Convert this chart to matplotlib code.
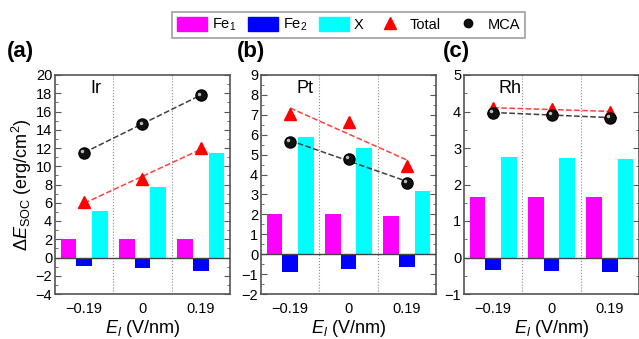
import matplotlib
matplotlib.use("Agg")
import matplotlib.pyplot as plt
import numpy as np
from matplotlib.patches import Patch
from matplotlib.lines import Line2D
from matplotlib.ticker import MultipleLocator

plt.rcParams['font.family'] = ['Liberation Sans', 'DejaVu Sans']
plt.rcParams['mathtext.fontset'] = 'custom'
plt.rcParams['mathtext.rm'] = 'Liberation Sans'
plt.rcParams['mathtext.it'] = 'Liberation Sans:italic'
plt.rcParams['axes.unicode_minus'] = True

field_labels = ['\u22120.19', '0', '0.19']
metals = ['Ir', 'Pt', 'Rh']

# per metal: Fe1, Fe2, X, Total, MCA  (erg/cm^2)
fe1 = {'Ir': [2.05, 2.05, 2.05], 'Pt': [2.0, 2.0, 1.9], 'Rh': [1.67, 1.67, 1.67]}
fe2 = {'Ir': [-0.9, -1.15, -1.45], 'Pt': [-0.9, -0.74, -0.65], 'Rh': [-0.35, -0.37, -0.41]}
xel = {'Ir': [5.1, 7.7, 11.4], 'Pt': [5.87, 5.32, 3.16], 'Rh': [2.75, 2.72, 2.70]}
total = {'Ir': [6.1, 8.6, 12.0], 'Pt': [7.04, 6.64, 4.43], 'Rh': [4.1, 4.06, 4.0]}
mca = {'Ir': [11.5, 14.65, 17.8], 'Pt': [5.65, 4.8, 3.6], 'Rh': [3.97, 3.91, 3.83]}

ylims = {'Ir': (-4, 20), 'Pt': (-2, 9), 'Rh': (-1, 5)}
ymajor = {'Ir': 2, 'Pt': 1, 'Rh': 1}

c_fe1 = '#ff00ff'
c_fe2 = '#0000ff'
c_x = '#00ffff'
spine_c = '#555555'

fig = plt.figure(figsize=(6.39, 3.39), dpi=100)
lefts = [55, 261, 464]
w = 175
bot = 294
top = 75
axes = []
for l in lefts:
    axes.append(fig.add_axes([l / 639, 1 - bot / 339, w / 639, (bot - top) / 339]))

x = np.arange(3)
bw = 0.27
for ax, m in zip(axes, metals):
    ax.bar(x - bw, fe1[m], bw, color=c_fe1, zorder=2)
    ax.bar(x, fe2[m], bw, color=c_fe2, zorder=2)
    ax.bar(x + bw, xel[m], bw, color=c_x, zorder=2)
    ax.axhline(0, color='#444444', lw=1.0, zorder=3)
    for sep in [0.5, 1.5]:
        ax.axvline(sep, color='#888888', lw=0.8, ls=':', zorder=1)
    # linear trend lines
    pt = np.polyfit(x, total[m], 1)
    pm = np.polyfit(x, mca[m], 1)
    ax.plot(x, np.polyval(pt, x), ls='--', color='#ff4040', lw=1.1, zorder=4)
    ax.plot(x, np.polyval(pm, x), ls='--', color='#404040', lw=1.1, zorder=4)
    ax.plot(x, total[m], ls='none', marker='^', ms=9, color='#ff0000', zorder=5)
    ax.plot(x, mca[m], ls='none', marker='o', ms=8, mfc='#111111', mec='#000000', zorder=5)
    ax.plot(x - 0.03, np.array(mca[m]) + (ylims[m][1] - ylims[m][0]) * 0.006, ls='none', marker='o', ms=2.5,
            mfc='#bbbbbb', mec='none', zorder=6)

    ax.set_xlim(-0.5, 2.5)
    ax.set_ylim(*ylims[m])
    ax.set_xticks(x)
    ax.set_xticklabels(field_labels)
    ax.yaxis.set_major_locator(MultipleLocator(ymajor[m]))
    ax.yaxis.set_minor_locator(MultipleLocator(ymajor[m] / 2))
    ax.tick_params(axis='x', length=0, labelsize=10.5, pad=6)
    ax.tick_params(axis='y', which='both', direction='in', right=True, labelsize=10.5,
                   color=spine_c, pad=2)
    ax.tick_params(axis='y', which='major', length=4)
    ax.tick_params(axis='y', which='minor', length=2)
    for s in ax.spines.values():
        s.set_color(spine_c)
        s.set_linewidth(1.2)
    ax.set_xlabel(r'$E_l$ (V/nm)', fontsize=13, labelpad=1)
    ax.text(0.2, 0.975, m, transform=ax.transAxes, ha='left', va='top', fontsize=13)

axes[0].set_ylabel(r'$\Delta E_{\mathrm{SOC}}$ (erg/cm$^2$)', fontsize=13, labelpad=1)

for lab, px in zip(['(a)', '(b)', '(c)'], [7, 237, 443]):
    fig.text(px / 639, 1 - 52 / 339, lab, fontsize=16, fontweight='bold', ha='left', va='center')

handles = [
    Patch(color=c_fe1, label='Fe$_1$'),
    Patch(color=c_fe2, label='Fe$_2$'),
    Patch(color=c_x, label='X'),
    Line2D([], [], ls='none', marker='^', ms=8, color='#ff0000', label='Total'),
    Line2D([], [], ls='none', marker='o', ms=6, mfc='#111111', mec='#000000', label='MCA'),
]
leg = fig.legend(handles=handles, loc='center', bbox_to_anchor=(348.5 / 639, 1 - 25 / 339), ncol=5,
                 fontsize=10.5, frameon=True, fancybox=False, edgecolor='#888888',
                 handlelength=2.1, handleheight=1.1, handletextpad=0.3, columnspacing=0.8,
                 borderpad=0.3, borderaxespad=0)
leg.get_frame().set_linewidth(1.2)

fig.savefig('out.png', dpi=100)
